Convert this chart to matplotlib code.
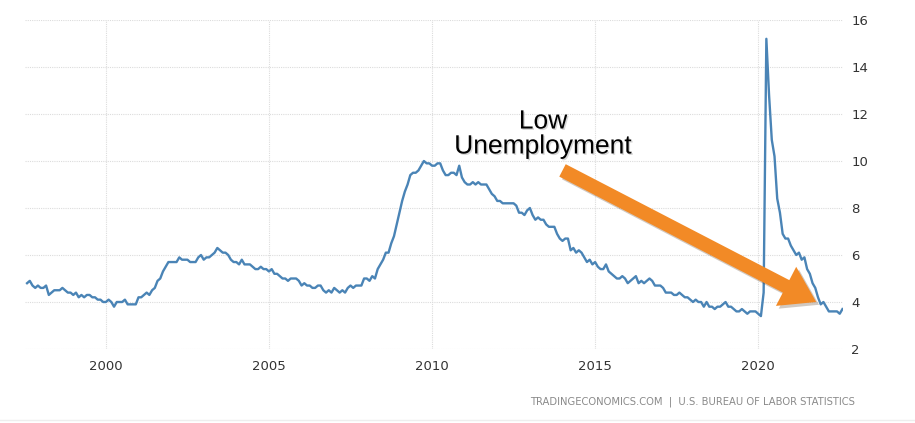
import numpy as np
import matplotlib
matplotlib.use("Agg")
import matplotlib.pyplot as plt
from matplotlib import patheffects as pe
from matplotlib.patches import FancyArrow
from matplotlib.transforms import IdentityTransform

# US unemployment rate, monthly (Aug 1997 - Aug 2022)
rate_1997 = [4.8, 4.9, 4.7, 4.6, 4.7]
rate_1998 = [4.6, 4.6, 4.7, 4.3, 4.4, 4.5, 4.5, 4.5, 4.6, 4.5, 4.4, 4.4]
rate_1999 = [4.3, 4.4, 4.2, 4.3, 4.2, 4.3, 4.3, 4.2, 4.2, 4.1, 4.1, 4.0]
rate_2000 = [4.0, 4.1, 4.0, 3.8, 4.0, 4.0, 4.0, 4.1, 3.9, 3.9, 3.9, 3.9]
rate_2001 = [4.2, 4.2, 4.3, 4.4, 4.3, 4.5, 4.6, 4.9, 5.0, 5.3, 5.5, 5.7]
rate_2002 = [5.7, 5.7, 5.7, 5.9, 5.8, 5.8, 5.8, 5.7, 5.7, 5.7, 5.9, 6.0]
rate_2003 = [5.8, 5.9, 5.9, 6.0, 6.1, 6.3, 6.2, 6.1, 6.1, 6.0, 5.8, 5.7]
rate_2004 = [5.7, 5.6, 5.8, 5.6, 5.6, 5.6, 5.5, 5.4, 5.4, 5.5, 5.4, 5.4]
rate_2005 = [5.3, 5.4, 5.2, 5.2, 5.1, 5.0, 5.0, 4.9, 5.0, 5.0, 5.0, 4.9]
rate_2006 = [4.7, 4.8, 4.7, 4.7, 4.6, 4.6, 4.7, 4.7, 4.5, 4.4, 4.5, 4.4]
rate_2007 = [4.6, 4.5, 4.4, 4.5, 4.4, 4.6, 4.7, 4.6, 4.7, 4.7, 4.7, 5.0]
rate_2008 = [5.0, 4.9, 5.1, 5.0, 5.4, 5.6, 5.8, 6.1, 6.1, 6.5, 6.8, 7.3]
rate_2009 = [7.8, 8.3, 8.7, 9.0, 9.4, 9.5, 9.5, 9.6, 9.8, 10.0, 9.9, 9.9]
rate_2010 = [9.8, 9.8, 9.9, 9.9, 9.6, 9.4, 9.4, 9.5, 9.5, 9.4, 9.8, 9.3]
rate_2011 = [9.1, 9.0, 9.0, 9.1, 9.0, 9.1, 9.0, 9.0, 9.0, 8.8, 8.6, 8.5]
rate_2012 = [8.3, 8.3, 8.2, 8.2, 8.2, 8.2, 8.2, 8.1, 7.8, 7.8, 7.7, 7.9]
rate_2013 = [8.0, 7.7, 7.5, 7.6, 7.5, 7.5, 7.3, 7.2, 7.2, 7.2, 6.9, 6.7]
rate_2014 = [6.6, 6.7, 6.7, 6.2, 6.3, 6.1, 6.2, 6.1, 5.9, 5.7, 5.8, 5.6]
rate_2015 = [5.7, 5.5, 5.4, 5.4, 5.6, 5.3, 5.2, 5.1, 5.0, 5.0, 5.1, 5.0]
rate_2016 = [4.8, 4.9, 5.0, 5.1, 4.8, 4.9, 4.8, 4.9, 5.0, 4.9, 4.7, 4.7]
rate_2017 = [4.7, 4.6, 4.4, 4.4, 4.4, 4.3, 4.3, 4.4, 4.3, 4.2, 4.2, 4.1]
rate_2018 = [4.0, 4.1, 4.0, 4.0, 3.8, 4.0, 3.8, 3.8, 3.7, 3.8, 3.8, 3.9]
rate_2019 = [4.0, 3.8, 3.8, 3.7, 3.6, 3.6, 3.7, 3.6, 3.5, 3.6, 3.6, 3.6]
rate_2020 = [3.5, 3.4, 4.4, 15.2, 12.8, 10.9, 10.2, 8.4, 7.8, 6.9, 6.7, 6.7]
rate_2021 = [6.4, 6.2, 6.0, 6.1, 5.8, 5.9, 5.4, 5.2, 4.8, 4.6, 4.2, 3.9]
rate_2022 = [4.0, 3.8, 3.6, 3.6, 3.6, 3.6, 3.5, 3.7]

start_year, start_month = 1997, 8
x_ticks = [2000, 2005, 2010, 2015, 2020]
y_ticks = [2, 4, 6, 8, 10, 12, 14, 16]
annotation = "Low\nUnemployment"
source = "TRADINGECONOMICS.COM  |  U.S. BUREAU OF LABOR STATISTICS"

rate = (rate_1997 + rate_1998 + rate_1999 + rate_2000 + rate_2001 + rate_2002
        + rate_2003 + rate_2004 + rate_2005 + rate_2006 + rate_2007 + rate_2008
        + rate_2009 + rate_2010 + rate_2011 + rate_2012 + rate_2013 + rate_2014
        + rate_2015 + rate_2016 + rate_2017 + rate_2018 + rate_2019 + rate_2020
        + rate_2021 + rate_2022)
t = start_year + (start_month - 1 + np.arange(len(rate))) / 12.0

fig = plt.figure(figsize=(9.15, 4.23), dpi=100)
ax = fig.add_axes([25 / 915, 1 - 349 / 423, 818 / 915, 329 / 423])

ax.plot(t, rate, color="#4a84b6", lw=1.7, solid_joinstyle="round")

ax.set_xlim(1997.52, 2022.6)
ax.set_ylim(2, 16)
ax.set_xticks(x_ticks)
ax.set_yticks(y_ticks)
ax.yaxis.tick_right()
ax.tick_params(axis="both", length=0, labelsize=9.5, colors="#333333")
ax.tick_params(axis="y", pad=6)
ax.tick_params(axis="x", pad=8)
ax.grid(True, color="#dcdcdc", linestyle=(0, (1, 1)), linewidth=0.8)
for s in ax.spines.values():
    s.set_visible(False)

# annotation text
txt = ax.text(2013.4, 11.15, annotation, ha="center", va="center", fontsize=19,
              family="Liberation Sans", color="black", linespacing=1.05)
txt.set_path_effects([pe.withSimplePatchShadow(offset=(1, -1), alpha=0.3, shadow_rgbFace="gray")])

# arrow, drawn in pixels so the head keeps its shape
(x0, y0), (x1, y1) = ax.transData.transform([(2014.0, 9.6), (2021.78, 4.0)])
arrow = FancyArrow(x0, y0, x1 - x0, y1 - y0, width=14, head_width=44, head_length=34,
                   length_includes_head=True, color="#f28a26", lw=0,
                   transform=IdentityTransform())
arrow.set_path_effects([pe.withSimplePatchShadow(offset=(2, -2), alpha=0.25)])
fig.add_artist(arrow)

fig.text(855 / 915, 1 - 402 / 423, source, ha="right", va="center",
         fontsize=7.2, color="#8a8a8a", family="DejaVu Sans")
fig.add_artist(plt.Line2D([0, 1], [1 - 420 / 423] * 2, color="#eeeeee", lw=1))

fig.savefig("out.png", dpi=100)
